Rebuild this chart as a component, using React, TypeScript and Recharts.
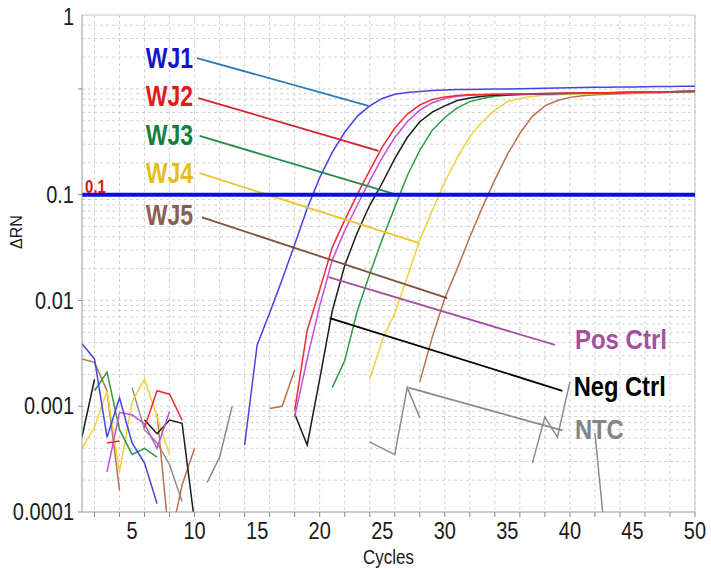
import React from 'react';
import { LineChart, Line, XAxis, YAxis, CartesianGrid, ReferenceLine, ReferenceDot, Label } from 'recharts';

// ---------- data ----------
const CYCLES = [1,2,3,4,5,6,7,8,9,10,11,12,13,14,15,16,17,18,19,20,21,22,23,24,25,26,27,28,29,30,31,32,33,34,35,36,37,38,39,40,41,42,43,44,45,46,47,48,49,50];

const WJ1 = [0.0039,0.0028,0.00051,0.0012,0.00045,0.00029,0.00012,null,null,null,null,null,null,0.00043,0.0038,0.0076,0.0158,0.0339,0.0741,0.145,0.251,0.389,0.55,0.692,0.813,0.891,0.923,0.944,0.966,0.977,0.985,0.99,0.995,1.0,1.0,1.005,1.01,1.015,1.02,1.025,1.03,1.035,1.04,1.045,1.045,1.05,1.055,1.055,1.06,1.06];
const WJ2 = [null,null,0.00045,0.00047,null,0.00063,0.0014,0.0013,0.00074,null,null,null,null,null,null,null,null,0.00091,0.0052,0.0126,0.0316,0.0575,0.1,0.17,0.282,0.427,0.575,0.708,0.794,0.841,0.867,0.881,0.887,0.891,0.895,0.9,0.9,0.905,0.91,0.91,0.915,0.92,0.92,0.925,0.93,0.93,0.935,0.94,0.945,0.95];
const POS_CTRL = [null,null,0.00024,0.00087,0.00083,0.00068,0.0004,0.00089,null,null,null,null,null,null,null,null,null,0.00079,0.0028,0.0089,0.024,0.0457,0.0794,0.135,0.224,0.347,0.49,0.631,0.741,0.813,0.851,0.871,0.881,0.891,0.893,0.897,0.9,0.903,0.907,0.91,0.913,0.917,0.92,0.924,0.928,0.93,0.934,0.938,0.943,0.948];
const NEG_CTRL = [0.00051,0.0018,null,null,null,0.00074,0.00055,0.00074,0.00069,0.00008,null,null,null,null,null,null,null,0.00085,0.00043,0.0018,0.0079,0.0214,0.0437,0.0794,0.129,0.219,0.347,0.49,0.603,0.692,0.776,0.822,0.851,0.871,0.881,0.89,0.895,0.9,0.905,0.908,0.912,0.916,0.92,0.924,0.928,0.932,0.936,0.94,0.944,0.948];
const WJ3 = [null,0.0014,0.0021,0.0006,0.00035,0.0004,0.00033,null,null,null,null,null,null,null,null,null,null,null,null,null,0.0015,0.0027,0.0079,0.0178,0.038,0.0759,0.151,0.263,0.407,0.537,0.661,0.759,0.813,0.851,0.871,0.881,0.891,0.895,0.9,0.905,0.91,0.914,0.918,0.922,0.926,0.93,0.935,0.94,0.945,0.95];
const WJ4 = [0.0004,0.00063,0.0014,0.00024,0.0011,0.0018,0.00079,0.00035,null,null,null,null,null,null,null,null,null,null,null,null,null,null,null,0.0018,0.0042,0.0076,0.0166,0.0372,0.0708,0.132,0.224,0.355,0.49,0.631,0.759,0.813,0.851,0.871,0.881,0.891,0.897,0.903,0.908,0.913,0.918,0.923,0.928,0.933,0.94,0.945];
const WJ5 = [0.0028,0.0026,0.0014,0.00016,null,null,0.00085,0.00005,0.00018,0.0004,null,null,null,null,null,0.00095,0.001,0.0022,null,null,null,null,null,null,null,null,null,0.0017,0.0045,0.0105,0.02,0.0398,0.0759,0.138,0.24,0.38,0.55,0.692,0.776,0.832,0.861,0.881,0.891,0.9,0.907,0.915,0.922,0.93,0.94,0.95];
const NTC = [null,null,null,null,0.0015,0.0006,0.00045,0.00028,0.000126,null,0.00019,0.00033,0.001,null,null,null,null,null,null,null,null,null,null,0.00046,0.0004,0.00035,0.0015,0.00078,null,null,null,null,null,null,null,null,0.00029,0.00079,0.00051,0.0017,null,0.00056,0.000035,null,null,null,null,null,null,null];

const THRESHOLD = 0.1;

const X_LABEL_TICKS = [5,10,15,20,25,30,35,40,45,50];
const X_MINOR_TICKS = [2,4,6,8,10,12,14,16,18,20,22,24,26,28,30,32,34,36,38,40,42,44,46,48,50];
const Y_TICKS = [0.0001,0.001,0.01,0.1,1];
const Y_GRID = [0.0002,0.0003,0.0004,0.0005,0.0006,0.0007,0.0008,0.0009,0.001,0.002,0.003,0.004,0.005,0.006,0.007,0.008,0.009,0.01,0.02,0.03,0.04,0.05,0.06,0.07,0.08,0.09,0.1,0.2,0.3,0.4,0.5,0.6,0.7,0.8,0.9,1,2,3,4];

// annotation callouts: [label, x1, y1, x2, y2, labelX, labelY, anchor]
const CALLOUTS = [
  { name: 'WJ1', x1: 10.2, y1: 1.96, x2: 23.9, y2: 0.69, lx: 9.88, ly: 1.96, anchor: 'end' },
  { name: 'WJ2', x1: 10.3, y1: 0.82, x2: 24.7, y2: 0.26, lx: 9.88, ly: 0.85, anchor: 'end' },
  { name: 'WJ3', x1: 10.4, y1: 0.36, x2: 26.4, y2: 0.098, lx: 9.88, ly: 0.37, anchor: 'end' },
  { name: 'WJ4', x1: 10.4, y1: 0.16, x2: 27.9, y2: 0.035, lx: 9.88, ly: 0.16, anchor: 'end' },
  { name: 'WJ5', x1: 10.6, y1: 0.061, x2: 30.2, y2: 0.0105, lx: 9.88, ly: 0.064, anchor: 'end' },
  { name: 'Pos Ctrl', x1: 20.7, y1: 0.0166, x2: 38.8, y2: 0.0038, lx: 40.4, ly: 0.0043, anchor: 'start' },
  { name: 'Neg Ctrl', x1: 20.8, y1: 0.0068, x2: 39.4, y2: 0.0014, lx: 40.3, ly: 0.00155, anchor: 'start' },
  { name: 'NTC', x1: 27.1, y1: 0.0015, x2: 39.4, y2: 0.00059, lx: 40.4, ly: 0.00061, anchor: 'start' },
];

// ---------- styles ----------
const W = 711;
const H = 569;
const MARGIN = { top: 15, right: 16, bottom: 27, left: 0 };
const FONT = '"Liberation Sans", Arial, sans-serif';

const SERIES = [
  { key: 'ntc', values: NTC, color: '#8c8c8c' },
  { key: 'wj5', values: WJ5, color: '#b8714a' },
  { key: 'wj4', values: WJ4, color: '#f2d23c' },
  { key: 'wj3', values: WJ3, color: '#2f9a45' },
  { key: 'neg', values: NEG_CTRL, color: '#1c1c1c' },
  { key: 'pos', values: POS_CTRL, color: '#c44ee2' },
  { key: 'wj2', values: WJ2, color: '#ee2a34' },
  { key: 'wj1', values: WJ1, color: '#4444e0' },
];

const CALLOUT_STYLE: Record<string, { line: string; text: string; size: number; k: number }> = {
  'WJ1': { line: '#2a7cb8', text: '#1414cc', size: 23, k: 1.27 },
  'WJ2': { line: '#d42026', text: '#e01a1a', size: 23, k: 1.27 },
  'WJ3': { line: '#1d8a4c', text: '#148040', size: 23, k: 1.27 },
  'WJ4': { line: '#eac434', text: '#e4bc22', size: 23, k: 1.27 },
  'WJ5': { line: '#7a5040', text: '#8a5e50', size: 23, k: 1.27 },
  'Pos Ctrl': { line: '#a450a6', text: '#a4509e', size: 24, k: 1.16 },
  'Neg Ctrl': { line: '#000000', text: '#000000', size: 23.7, k: 1.16 },
  'NTC': { line: '#8a8a8a', text: '#848484', size: 23.8, k: 1.16 },
};

const stretch = (k: number) => ({
  transformBox: 'fill-box' as any,
  transformOrigin: 'center',
  transform: `scaleY(${k})`,
});

const X_TICKS = Array.from(new Set([...X_MINOR_TICKS, ...X_LABEL_TICKS])).sort((a, b) => a - b);

const rows = CYCLES.map((c, i) => {
  const r: any = { cycle: c };
  SERIES.forEach((s) => { r[s.key] = s.values[i]; });
  return r;
});

const YTick = (props: any) => {
  const { x, y, payload } = props;
  const v = payload.value;
  const ly = v === 1 ? MARGIN.top + 2 : y;
  return (
    <g>
      <line x1={x - 4} x2={x} y1={y} y2={y} stroke="#8a8a8a" strokeWidth={1} />
      <text x={x - 8} y={ly} textAnchor="end" dominantBaseline="central" fontSize={20} fill="#1a1a1a" fontFamily={FONT} style={stretch(1.2)}>
        {String(v)}
      </text>
    </g>
  );
};

const XTick = (props: any) => {
  const { x, y, payload } = props;
  const v = payload.value;
  return (
    <g>
      {X_MINOR_TICKS.includes(v) && <line x1={x} x2={x} y1={y} y2={y + 5} stroke="#8a8a8a" strokeWidth={1} />}
      {X_LABEL_TICKS.includes(v) && (
        <text x={x} y={y + 19} textAnchor="middle" dominantBaseline="central" fontSize={20} fill="#1a1a1a" fontFamily={FONT} style={stretch(1.2)}>
          {String(v)}
        </text>
      )}
    </g>
  );
};

const CyclesLabel = (props: any) => {
  const vb = props.viewBox || { x: 82, y: 512, width: 613, height: 30 };
  return (
    <text x={vb.x + vb.width / 2} y={vb.y + 45} textAnchor="middle" dominantBaseline="central" fontSize={17} fill="#1a1a1a" fontFamily={FONT} style={stretch(1.15)}>
      Cycles
    </text>
  );
};

const RNLabel = (props: any) => {
  const vb = props.viewBox || { x: 0, y: 15, width: 82, height: 497 };
  const cx = vb.x + 16;
  const cy = vb.y + 217;
  return (
    <text x={cx} y={cy} transform={`rotate(-90 ${cx} ${cy})`} textAnchor="middle" dominantBaseline="central" fontSize={16} fill="#1a1a1a" fontFamily={FONT}>
      ΔRN
    </text>
  );
};

export default function App() {
  return (
    <div style={{ position: 'absolute', left: 0, top: 0, width: W, height: H, background: '#ffffff' }}>
      <LineChart width={W} height={H} data={rows} margin={MARGIN}>
        <CartesianGrid
          stroke="#d2d2d2"
          strokeDasharray="3 3"
          verticalValues={X_MINOR_TICKS}
          horizontalValues={Y_GRID}
        />
        <XAxis
          type="number"
          dataKey="cycle"
          domain={[1, 50]}
          ticks={X_TICKS}
          interval={0}
          tickLine={false}
          tickSize={0}
          tickMargin={0}
          tick={<XTick />}
          height={30}
          axisLine={{ stroke: '#9a9a9a' }}
          allowDataOverflow
          label={<Label content={<CyclesLabel />} />}
        />
        <YAxis
          type="number"
          scale="log"
          domain={[0.0001, 5]}
          allowDataOverflow
          ticks={Y_TICKS}
          interval={0}
          tickLine={false}
          tickSize={0}
          tickMargin={0}
          tick={<YTick />}
          width={82}
          axisLine={{ stroke: '#9a9a9a' }}
          label={<Label content={<RNLabel />} />}
        />
        <ReferenceLine x={50} stroke="#c8c8c8" strokeWidth={1} />
        <ReferenceLine y={5} stroke="#c8c8c8" strokeWidth={1} />
        {SERIES.map((s) => (
          <Line
            key={s.key}
            type="linear"
            dataKey={s.key}
            stroke={s.color}
            strokeWidth={1.5}
            dot={false}
            activeDot={false}
            connectNulls={false}
            isAnimationActive={false}
          />
        ))}
        {CALLOUTS.map((c) => (
          <ReferenceLine
            key={'seg-' + c.name}
            segment={[{ x: c.x1, y: c.y1 }, { x: c.x2, y: c.y2 }]}
            stroke={CALLOUT_STYLE[c.name].line}
            strokeWidth={1.8}
          />
        ))}
        {CALLOUTS.map((c) => (
          <ReferenceDot
            key={'lab-' + c.name}
            x={c.lx}
            y={c.ly}
            r={0}
            shape={(p: any) => (
              <text
                x={p.cx}
                y={p.cy}
                textAnchor={c.anchor as any}
                dominantBaseline="central"
                fontSize={CALLOUT_STYLE[c.name].size}
                fontWeight="bold"
                fill={CALLOUT_STYLE[c.name].text}
                fontFamily={FONT}
                style={stretch(CALLOUT_STYLE[c.name].k)}
              >
                {c.name}
              </text>
            )}
          />
        ))}
        <ReferenceDot
          x={1.25}
          y={0.118}
          r={0}
          shape={(p: any) => (
            <text x={p.cx} y={p.cy} textAnchor="start" dominantBaseline="central" fontSize={15} fontWeight="bold" fill="#d81818" fontFamily={FONT} style={stretch(1.2)}>
              {String(THRESHOLD)}
            </text>
          )}
        />
        <ReferenceLine y={THRESHOLD} stroke="#0c0ce4" strokeWidth={4} />
      </LineChart>
    </div>
  );
}
